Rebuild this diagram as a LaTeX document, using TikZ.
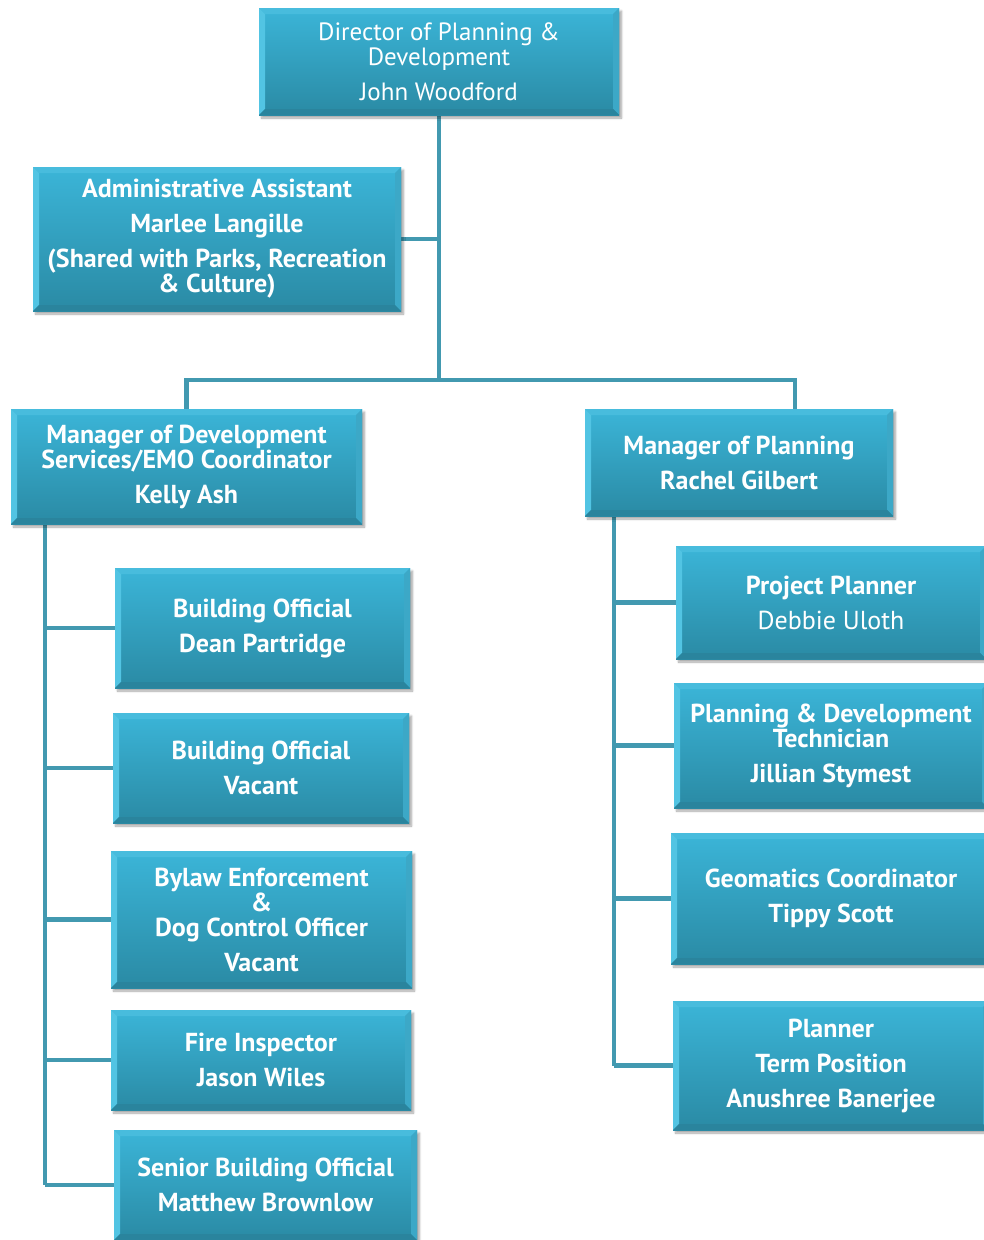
\documentclass[tikz,border=0pt]{standalone}
\usepackage{fontspec}
\setmainfont{PT Sans}
\usetikzlibrary{calc,shadows.blur}

\definecolor{boxtop}{HTML}{3BB5D8}
\definecolor{boxbot}{HTML}{2A8AA4}
\definecolor{bevlight}{HTML}{52C4E3}
\definecolor{bevtop}{HTML}{48BCDD}
\definecolor{bevright}{HTML}{3CA8C7}
\definecolor{bevbot}{HTML}{2A849D}
\definecolor{linkcol}{HTML}{4299B0}

\pgfdeclarelayer{background}
\pgfsetlayers{background,main}

\tikzset{
  orgbox/.style={
    rectangle, inner sep=0pt, align=center, text=white,
    top color=boxtop, bottom color=boxbot,
    font=\fontsize{26}{25}\selectfont\bfseries,
    blur shadow={shadow xshift=2.5pt, shadow yshift=-3pt, shadow blur steps=6, shadow opacity=35},
    path picture={
      \coordinate (bsw) at (path picture bounding box.south west);
      \coordinate (bse) at (path picture bounding box.south east);
      \coordinate (bnw) at (path picture bounding box.north west);
      \coordinate (bne) at (path picture bounding box.north east);
      \fill[bevtop] (bnw) -- (bne) -- ($(bne)+(-6pt,-6pt)$) -- ($(bnw)+(6pt,-6pt)$) -- cycle;
      \fill[bevlight] (bnw) -- ($(bnw)+(6pt,-6pt)$) -- ($(bsw)+(6pt,6pt)$) -- (bsw) -- cycle;
      \fill[bevright] (bne) -- ($(bne)+(-6pt,-6pt)$) -- ($(bse)+(-6pt,6pt)$) -- (bse) -- cycle;
      \fill[bevbot] (bsw) -- ($(bsw)+(6pt,6pt)$) -- ($(bse)+(-6pt,6pt)$) -- (bse) -- cycle;
    }
  },
  plain/.style={font=\fontsize{25}{25}\selectfont},
  link/.style={draw=linkcol, line width=4.5pt}
}

\begin{document}
\begin{tikzpicture}[x=1pt, y=-1pt]
\useasboundingbox (0,0) rectangle (983,1240);

% top level
\node[orgbox, plain, minimum width=360pt, minimum height=107pt] (dir) at (439,61.5)
  {Director of Planning \&\\Development\\[10pt]John Woodford};
\node[orgbox, minimum width=368pt, minimum height=144pt] (admin) at (217,239)
  {Administrative Assistant\\[10pt]Marlee Langille\\[10pt](Shared with Parks, Recreation\\\& Culture)};

% managers
\node[orgbox, minimum width=351pt, minimum height=115pt] (mdev) at (186.5,466.5)
  {Manager of Development\\Services/EMO Coordinator\\[10pt]Kelly Ash};
\node[orgbox, minimum width=308pt, minimum height=107pt] (mplan) at (739,462.5)
  {Manager of Planning\\[10pt]Rachel Gilbert};

% development services staff
\node[orgbox, minimum width=295pt, minimum height=120pt] (bo1) at (262.5,628)
  {Building Official\\[10pt]Dean Partridge};
\node[orgbox, minimum width=296pt, minimum height=110pt] (bo2) at (261,768)
  {Building Official\\[10pt]Vacant};
\node[orgbox, minimum width=301pt, minimum height=137pt] (bylaw) at (261.5,919.5)
  {Bylaw Enforcement\\\&\\Dog Control Officer\\[10pt]Vacant};
\node[orgbox, minimum width=300pt, minimum height=100pt] (fire) at (261,1060)
  {Fire Inspector\\[10pt]Jason Wiles};
\node[orgbox, minimum width=303pt, minimum height=110pt] (senior) at (265.5,1185)
  {Senior Building Official\\[10pt]Matthew Brownlow};

% planning staff
\node[orgbox, minimum width=310pt, minimum height=113pt] (pp) at (831,602.5)
  {Project Planner\\[10pt]{\mdseries Debbie Uloth}};
\node[orgbox, minimum width=314pt, minimum height=125pt] (tech) at (831,745.5)
  {Planning \& Development\\Technician\\[10pt]Jillian Stymest};
\node[orgbox, minimum width=320pt, minimum height=131pt] (geo) at (831,898.5)
  {Geomatics Coordinator\\[10pt]Tippy Scott};
\node[orgbox, minimum width=316pt, minimum height=129pt] (plnr) at (831,1065.5)
  {Planner\\[10pt]Term Position\\[10pt]Anushree Banerjee};

% connectors
\coordinate (hub) at (439,380);
\coordinate (rtop) at (795,380);
\coordinate (lspine) at (45,0);
\coordinate (rspine) at (614,0);
\begin{pgfonlayer}{background}
  \draw[link] (dir.south) -- (hub);
  \draw[link] (admin.east) -- (admin.east -| hub);
  \draw[link] (mdev.north) |- (hub) -- (rtop) -- (rtop |- mplan.north);
  \draw[link] (lspine |- mdev.south) -- (lspine |- senior.west);
  \foreach \b in {bo1,bo2,bylaw,fire,senior}
    \draw[link] (lspine |- \b.west) -- (\b.west);
  \draw[link] (rspine |- mplan.south) -- (rspine |- plnr.west);
  \foreach \b in {pp,tech,geo,plnr}
    \draw[link] (rspine |- \b.west) -- (\b.west);
\end{pgfonlayer}
\end{tikzpicture}
\end{document}
